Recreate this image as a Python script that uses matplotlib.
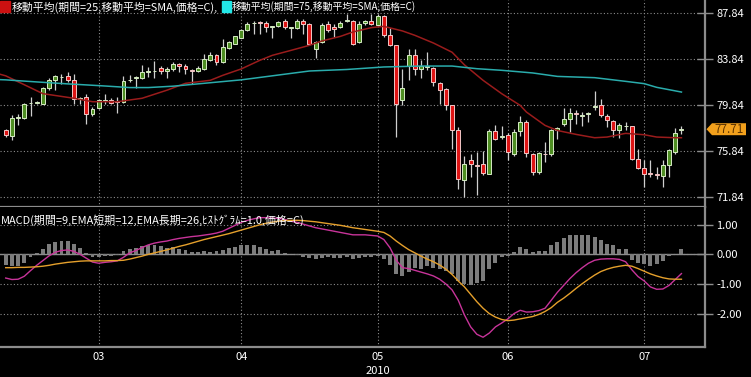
import numpy as np
import pandas as pd
import matplotlib
matplotlib.use("Agg")
import matplotlib.pyplot as plt
from matplotlib.patches import Polygon, Rectangle
from matplotlib.transforms import blended_transform_factory

plt.rcParams["font.family"] = ["Noto Sans CJK JP", "DejaVu Sans"]

# -----------------------
# Data (daily candles, Feb-Jul 2010)
# -----------------------
dates = pd.bdate_range("2010-02-08", "2010-07-09")

opens = [77.61, 77.12, 78.72, 78.71, 79.95, 79.98, 79.93, 81.32, 82.00, 82.22,
         82.33, 82.01, 80.36, 80.51, 79.06, 79.58, 80.20, 80.27, 80.15, 80.07,
         81.95, 82.15, 82.19, 82.70, 82.75, 83.03, 82.77, 82.97, 83.35, 83.17,
         82.88, 82.77, 82.97, 83.70, 84.13, 83.52, 84.80, 85.15, 85.67, 86.30,
         86.90, 86.95, 86.97, 86.60, 86.68, 87.12, 86.50, 86.53, 87.12, 86.88,
         84.71, 85.29, 86.82, 86.60, 86.60, 87.10, 87.12, 85.29, 86.94, 87.12,
         86.74, 87.52, 85.87, 85.00, 80.22, 83.17, 84.13, 82.91, 83.12, 83.06,
         81.75, 81.23, 79.78, 77.67, 73.26, 75.00, 74.60, 74.71, 73.84, 77.52,
         77.03, 77.17, 75.58, 77.52, 78.33, 75.52, 73.99, 75.58, 75.52, 77.60,
         78.13, 78.62, 79.10, 78.90, 79.00, 79.66, 79.84, 78.85, 78.42, 77.67,
         77.96, 77.96, 75.14, 74.36, 73.90, 73.84, 73.61, 74.57, 75.72, 77.60]
highs = [77.75, 78.91, 79.06, 80.00, 80.51, 80.20, 81.38, 82.19, 82.40, 82.54,
         82.72, 82.54, 80.50, 80.80, 79.63, 80.36, 80.80, 80.45, 80.51, 82.30,
         82.39, 82.30, 83.26, 83.10, 83.60, 83.17, 83.10, 83.55, 83.50, 83.35,
         82.97, 83.17, 84.27, 84.42, 84.27, 85.58, 85.40, 85.80, 86.40, 87.03,
         87.10, 87.10, 87.10, 86.70, 87.12, 87.32, 86.60, 87.32, 87.32, 86.95,
         85.35, 86.90, 87.10, 86.85, 87.15, 87.75, 87.23, 87.12, 87.23, 87.75,
         87.70, 87.60, 86.54, 85.05, 82.97, 84.71, 84.71, 83.70, 84.45, 83.10,
         81.80, 81.30, 79.85, 77.90, 75.40, 75.58, 75.72, 75.80, 77.75, 78.04,
         77.96, 77.40, 77.75, 78.90, 78.50, 75.60, 75.70, 76.59, 77.75, 77.90,
         79.58, 79.58, 79.40, 79.20, 79.20, 81.03, 80.36, 79.06, 78.54, 78.25,
         78.33, 78.00, 76.00, 75.06, 75.06, 74.40, 75.00, 76.01, 77.84, 77.96]
lows = [77.00, 76.80, 78.04, 78.60, 78.83, 79.90, 79.87, 81.09, 81.10, 81.67,
        81.80, 79.93, 79.90, 78.19, 78.83, 79.50, 79.93, 79.93, 79.12, 79.98,
        81.81, 81.30, 82.10, 82.25, 82.20, 82.54, 82.20, 82.77, 82.70, 82.54,
        81.67, 82.68, 82.88, 83.64, 83.26, 83.46, 84.70, 85.10, 85.60, 86.25,
        86.00, 86.00, 86.16, 85.67, 86.59, 86.45, 85.67, 86.45, 86.00, 85.00,
        83.90, 85.20, 86.20, 85.70, 86.50, 87.00, 85.00, 85.20, 86.80, 86.74,
        86.65, 85.72, 84.91, 77.00, 79.78, 81.96, 82.39, 82.19, 82.83, 81.50,
        79.93, 79.40, 76.00, 72.54, 71.81, 73.60, 71.96, 73.70, 73.80, 76.74,
        76.88, 75.00, 75.40, 77.10, 75.30, 73.70, 73.80, 74.86, 75.40, 76.88,
        77.96, 77.46, 78.20, 77.96, 78.33, 79.35, 78.77, 77.90, 77.03, 76.97,
        77.60, 75.00, 74.27, 72.68, 73.55, 73.40, 72.68, 73.55, 75.58, 77.32]
closes = [77.23, 78.71, 78.78, 79.93, 80.00, 80.05, 81.32, 82.01, 82.30, 82.28,
          82.01, 80.36, 80.40, 79.06, 79.49, 80.27, 80.25, 80.00, 80.10, 81.90,
          82.00, 82.20, 82.68, 82.77, 82.78, 82.74, 82.97, 83.40, 83.20, 82.97,
          82.74, 83.06, 83.78, 84.13, 83.52, 84.82, 85.26, 85.78, 86.30, 86.88,
          86.95, 86.93, 86.59, 86.65, 87.03, 86.59, 86.55, 87.12, 86.88, 85.09,
          85.29, 86.80, 86.30, 86.45, 86.97, 87.15, 85.14, 86.88, 87.12, 86.83,
          87.52, 85.87, 85.00, 79.93, 81.32, 84.19, 82.97, 83.20, 83.20, 81.81,
          81.14, 79.78, 77.67, 73.41, 74.71, 74.71, 74.50, 73.90, 77.52, 76.88,
          77.15, 75.72, 77.46, 78.33, 75.63, 73.99, 75.64, 75.52, 77.67, 77.84,
          78.62, 79.12, 79.05, 78.95, 79.10, 79.72, 78.97, 78.48, 77.60, 78.10,
          78.00, 75.14, 74.36, 73.84, 73.80, 73.70, 74.57, 75.87, 77.40, 77.71]

# moving averages read at sample candles
ma25_idx = [-1, 0, 6, 11, 14, 18, 22, 26, 29, 33, 35, 38, 41, 43, 46, 49, 51, 54,
            56, 59, 61, 64, 66, 69, 72, 74, 77, 80, 83, 84, 87, 89, 92, 95, 97,
            100, 103, 105, 108, 109]
ma25_val = [82.5, 82.35, 80.8, 80.4, 80.1, 80.1, 80.4, 81.1, 81.7, 81.96, 82.39,
            82.95, 83.7, 84.13, 84.56, 85.0, 85.38, 85.78, 86.16, 86.54, 86.65,
            86.25, 85.87, 85.2, 84.4, 83.3, 81.96, 80.8, 79.78, 79.2, 78.04,
            77.6, 77.26, 76.97, 77.03, 77.35, 77.23, 77.03, 76.97, 76.97]
ma75_idx = [-1, 0, 5, 10, 15, 20, 23, 27, 32, 38, 43, 49, 55, 61, 67, 72, 76,
            80, 85, 89, 95, 100, 103, 105, 109]
ma75_val = [82.02, 82.0, 81.82, 81.65, 81.5, 81.33, 81.33, 81.45, 81.7, 82.0,
            82.35, 82.77, 82.9, 83.12, 83.2, 83.2, 82.97, 82.83, 82.6, 82.3,
            82.19, 81.87, 81.67, 81.35, 80.94]

macd_line = [-0.80, -0.85, -0.84, -0.74, -0.55, -0.37, -0.21, -0.05, 0.07, 0.13,
             0.15, 0.10, 0.00, -0.13, -0.26, -0.30, -0.27, -0.25, -0.22, -0.10,
             0.05, 0.13, 0.23, 0.32, 0.38, 0.42, 0.45, 0.50, 0.54, 0.57,
             0.60, 0.62, 0.65, 0.68, 0.72, 0.78, 0.88, 0.98, 1.08, 1.15,
             1.20, 1.24, 1.24, 1.22, 1.22, 1.18, 1.12, 1.08, 1.02, 0.96,
             0.90, 0.86, 0.82, 0.78, 0.74, 0.70, 0.66, 0.66, 0.66, 0.64,
             0.62, 0.50, 0.22, -0.20, -0.45, -0.48, -0.54, -0.60, -0.66, -0.73,
             -0.84, -1.00, -1.20, -1.55, -2.05, -2.45, -2.70, -2.80, -2.66, -2.45,
             -2.32, -2.18, -2.00, -1.89, -1.95, -1.94, -1.90, -1.82, -1.55, -1.28,
             -1.05, -0.82, -0.62, -0.45, -0.30, -0.20, -0.16, -0.15, -0.15, -0.17,
             -0.25, -0.52, -0.75, -0.90, -1.10, -1.18, -1.17, -1.05, -0.85, -0.65]
signal_line = [-0.45, -0.45, -0.44, -0.44, -0.43, -0.42, -0.40, -0.37, -0.33, -0.30,
               -0.27, -0.25, -0.23, -0.22, -0.22, -0.22, -0.22, -0.21, -0.21, -0.20,
               -0.16, -0.11, -0.06, 0.00, 0.05, 0.10, 0.15, 0.21, 0.27, 0.32,
               0.38, 0.44, 0.50, 0.55, 0.60, 0.65, 0.70, 0.76, 0.82, 0.88,
               0.94, 1.00, 1.05, 1.09, 1.12, 1.14, 1.15, 1.15, 1.14, 1.12,
               1.10, 1.07, 1.04, 1.01, 0.98, 0.94, 0.90, 0.87, 0.84, 0.81,
               0.78, 0.74, 0.62, 0.45, 0.30, 0.16, 0.05, -0.06, -0.16, -0.25,
               -0.36, -0.50, -0.68, -0.90, -1.10, -1.35, -1.60, -1.82, -2.00, -2.12,
               -2.20, -2.24, -2.22, -2.18, -2.14, -2.10, -2.03, -1.93, -1.80, -1.62,
               -1.48, -1.32, -1.15, -0.99, -0.84, -0.70, -0.58, -0.50, -0.44, -0.40,
               -0.37, -0.40, -0.48, -0.57, -0.66, -0.73, -0.79, -0.83, -0.84, -0.84]
hist = [-0.35, -0.40, -0.40, -0.30, -0.10, 0.05, 0.19, 0.34, 0.42, 0.45,
        0.45, 0.34, 0.22, 0.06, -0.08, -0.10, -0.06, -0.04, -0.02, 0.11,
        0.19, 0.22, 0.28, 0.30, 0.30, 0.28, 0.22, 0.26, 0.19, 0.15,
        0.09, 0.08, 0.10, 0.09, 0.10, 0.15, 0.22, 0.26, 0.30, 0.30,
        0.30, 0.26, 0.19, 0.13, 0.15, 0.06, 0.00, -0.02, -0.08, -0.12,
        -0.15, -0.12, -0.10, -0.12, -0.12, -0.10, -0.14, -0.12, -0.10, -0.08,
        -0.07, -0.15, -0.35, -0.65, -0.73, -0.60, -0.45, -0.48, -0.39, -0.45,
        -0.50, -0.56, -0.67, -0.90, -1.01, -1.04, -0.96, -0.90, -0.50, -0.28,
        -0.08, -0.06, 0.08, 0.26, 0.19, 0.08, 0.11, 0.11, 0.30, 0.42,
        0.56, 0.64, 0.64, 0.64, 0.64, 0.60, 0.48, 0.34, 0.30, 0.19,
        0.17, -0.19, -0.28, -0.34, -0.39, -0.34, -0.22, -0.05, 0.02, 0.17]

price_ticks = [87.84, 83.84, 79.84, 75.84, 71.84]
macd_ticks = [1.0, 0.0, -1.0, -2.0]

legend_25 = "移動平均(期間=25,移動平均=SMA,価格=C),"
legend_75 = "移動平均(期間=75,移動平均=SMA,価格=C)"
macd_label = "MACD(期間=9,EMA短期=12,EMA長期=26,ﾋｽﾄｸﾞﾗﾑ=1.0,価格=C)"

# -----------------------
# Figure
# -----------------------
W, H = 751, 377
fig = plt.figure(figsize=(W / 100, H / 100), dpi=100, facecolor="black")
ax1 = fig.add_axes([0, 1 - 207 / H, 705 / W, 207 / H])
ax2 = fig.add_axes([0, 1 - 347 / H, 705 / W, 140 / H])

grid_c = "#8c8c8c"
axis_c = "#8c8c8c"
dots = (0, (1, 2))

x = np.arange(len(dates))
months = dates.month
month_pos = [i for i in range(1, len(dates)) if months[i] != months[i - 1]]
month_lab = [dates[i].strftime("%m") for i in month_pos]

for ax in (ax1, ax2):
    ax.set_facecolor("black")
    ax.set_xlim(-0.92, 112.8)
    ax.set_xticks(month_pos)
    ax.set_xticklabels([])
    ax.tick_params(axis="x", length=0)
    ax.grid(True, color=grid_c, linestyle=dots, linewidth=0.8)
    ax.set_axisbelow(True)
    for s in ("top", "left"):
        ax.spines[s].set_visible(False)
    for s in ("right", "bottom"):
        ax.spines[s].set_color(axis_c)
        ax.spines[s].set_linewidth(1.6)
    ax.yaxis.tick_right()
    ax.tick_params(axis="y", direction="inout", length=12, width=1,
                   color=axis_c, labelcolor="white", labelsize=8, pad=2)

# -----------------------
# Candles + moving averages
# -----------------------
o = np.array(opens)
c = np.array(closes)
up = c >= o
bottom = np.minimum(o, c)
height = np.maximum(np.abs(c - o), 0.06)

ax1.vlines(x, lows, highs, color="#cfcfcf", linewidth=0.9, zorder=2)
ax1.bar(x[up], height[up], bottom=bottom[up], width=0.64, color="#4e8e22",
        edgecolor="#d6ebc4", linewidth=0.7, zorder=3)
ax1.bar(x[~up], height[~up], bottom=bottom[~up], width=0.64, color="#de1414",
        edgecolor="#f3c6c6", linewidth=0.7, zorder=3)

ax1.plot(ma25_idx, ma25_val, color="#9a1c1c", linewidth=1.1, zorder=4)
ax1.plot(ma75_idx, ma75_val, color="#2aacac", linewidth=1.1, zorder=4)

ax1.set_ylim(70.95, 88.94)
ax1.set_yticks(price_ticks)
ax1.set_yticklabels([f"{v:.2f}" for v in price_ticks])

# last price marker
tr = blended_transform_factory(ax1.transAxes, ax1.transData)
last = closes[-1]
w = 1 / 705
pts = [(1 + 1.5 * w, last), (1 + 7 * w, last + 0.52), (1 + 41 * w, last + 0.52),
       (1 + 41 * w, last - 0.52), (1 + 7 * w, last - 0.52)]
ax1.add_patch(Polygon(pts, closed=True, transform=tr, clip_on=False,
                      facecolor="#f2a01c", edgecolor="none", zorder=6))
ax1.text(1 + 24 * w, last, f"{last:.2f}", transform=tr, ha="center", va="center",
         color="#5c3300", fontsize=8.5, zorder=7, clip_on=False)

# -----------------------
# MACD panel
# -----------------------
ax2.bar(x, hist, width=0.64, color="#7c7c7c", zorder=2)
ax2.axhline(0, color=axis_c, linewidth=1.0, zorder=1)
ax2.plot(x, macd_line, color="#c8349a", linewidth=1.0, zorder=3)
ax2.plot(x, signal_line, color="#e5a02c", linewidth=1.0, zorder=3)
ax2.set_ylim(-3.13, 1.60)
ax2.set_yticks(macd_ticks)
ax2.set_yticklabels([f"{v:.2f}" for v in macd_ticks])

xt = ax2.get_xaxis_transform()
for p, lab in zip(month_pos, month_lab):
    ax2.text(p, -0.075, lab, transform=xt, ha="center", va="center",
             color="white", fontsize=8)
ax2.text(month_pos[2], -0.172, str(dates[0].year), transform=xt, ha="center",
         va="center", color="white", fontsize=8)

# -----------------------
# Labels / legend (text squeezed to the widths seen in the original)
# -----------------------
def fx(px):
    return px / W


def fy(py):
    return 1 - py / H


renderer = fig.canvas.get_renderer()


def fitted_text(px, py, s, width_px):
    t = fig.text(fx(px), fy(py), s, color="white", fontsize=8,
                 ha="left", va="center")
    wpx = t.get_window_extent(renderer=renderer).width
    t.set_fontsize(8 * width_px / wpx)
    return t


fig.patches.append(Rectangle((fx(0), fy(11.5)), fx(9.5), 10 / H,
                             transform=fig.transFigure, color="#cc1111"))
fitted_text(11.5, 7, legend_25, 206)
fig.patches.append(Rectangle((fx(222), fy(11.5)), fx(9), 10 / H,
                             transform=fig.transFigure, color="#22e8e8"))
fitted_text(232, 7, legend_75, 184)
fitted_text(1, 220, macd_label, 303)

plt.savefig("out.png", dpi=100, facecolor="black")
plt.close()
